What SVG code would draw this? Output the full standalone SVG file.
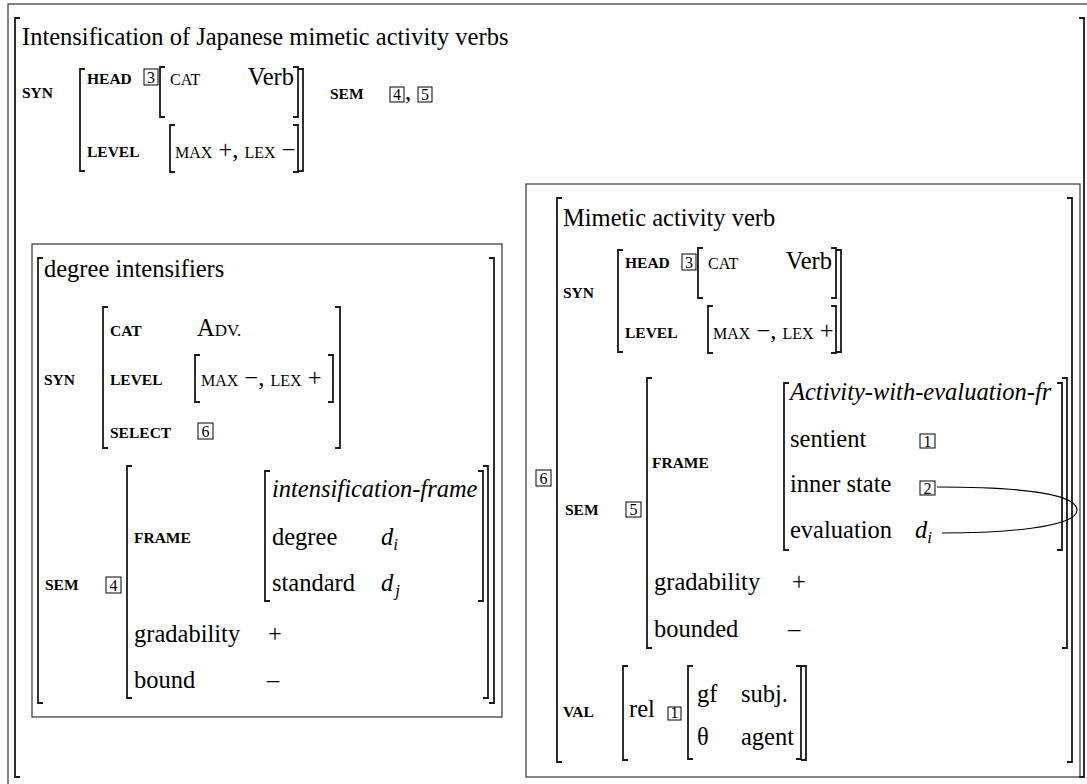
<svg xmlns="http://www.w3.org/2000/svg" width="1087" height="784" viewBox="0 0 1087 784">
<style>
.t{font-family:"Liberation Serif","Times New Roman",serif;font-size:24.5px;fill:#000}
.it{font-style:italic}
.lb{font-family:"Liberation Serif","Times New Roman",serif;font-size:15.5px;font-weight:bold;fill:#000}
.sc{font-size:16px}
.num{font-family:"Liberation Serif","Times New Roman",serif;font-size:16px;text-anchor:middle;fill:#000}
.sub{font-size:17px;font-style:italic}
.br{fill:none;stroke:#1a1a1a;stroke-width:1.8}
.bx{fill:none;stroke:#000;stroke-width:1}
.fr{fill:none;stroke:#333;stroke-width:1.2}
.cn{fill:none;stroke:#000;stroke-width:1.1}
</style>
<rect width="1087" height="784" fill="#fff"/>

<g id="main">
  <rect class="fr" x="8" y="4" width="1090" height="800"/>
  <path class="br" d="M20 18H15V777H20"/>
  <path class="br" d="M1079 18H1084V777H1079"/>
  <text class="t" x="22" y="45">Intensification of Japanese mimetic activity verbs</text>
  <text class="lb" x="22" y="98">SYN</text>
  <path class="br" d="M85 69H80V171H85"/>
  <path class="br" d="M298 69H303V171H298"/>
  <text class="lb" x="87" y="84">HEAD</text>
  <rect class="bx" x="144" y="69" width="14" height="16"/>
  <text class="num" x="151" y="83">3</text>
  <path class="br" d="M165 67H160V117H165"/>
  <path class="br" d="M293 67H298V117H293"/>
  <text class="t" x="170" y="85"><tspan class="sc">CAT</tspan></text>
  <text class="t" x="294" y="85" text-anchor="end">Verb</text>
  <text class="lb" x="87" y="157">LEVEL</text>
  <path class="br" d="M175 125H170V172H175"/>
  <path class="br" d="M293 125H298V172H293"/>
  <text class="t" x="175" y="158"><tspan class="sc">MAX</tspan> +, <tspan class="sc">LEX</tspan> −</text>
  <text class="lb" x="330" y="99">SEM</text>
  <rect class="bx" x="390" y="87" width="14" height="15"/>
  <text class="num" x="397" y="100">4</text>
  <text class="t" x="405" y="100">,</text>
  <rect class="bx" x="418" y="87" width="14" height="15"/>
  <text class="num" x="425" y="100">5</text>
</g>

<g id="degree-intensifiers">
  <rect class="fr" x="32" y="244" width="470" height="473"/>
  <path class="br" d="M43 258H38V703H43"/>
  <path class="br" d="M489 258H494V703H489"/>
  <text class="t" x="44" y="277">degree intensifiers</text>
  <text class="lb" x="44" y="385">SYN</text>
  <path class="br" d="M108 307H103V448H108"/>
  <path class="br" d="M335 307H340V448H335"/>
  <text class="lb" x="110" y="336">CAT</text>
  <text class="t" x="197" y="336">A<tspan font-size="17">DV.</tspan></text>
  <text class="lb" x="110" y="385">LEVEL</text>
  <path class="br" d="M200 355H195V402H200"/>
  <path class="br" d="M328 355H333V402H328"/>
  <text class="t" x="201" y="386"><tspan class="sc">MAX</tspan> −, <tspan class="sc">LEX</tspan> +</text>
  <text class="lb" x="110" y="438">SELECT</text>
  <rect class="bx" x="198" y="423" width="15" height="16"/>
  <text class="num" x="205.5" y="437">6</text>
  <text class="lb" x="45" y="590">SEM</text>
  <rect class="bx" x="106" y="577" width="15" height="16"/>
  <text class="num" x="113.5" y="591">4</text>
  <path class="br" d="M132 466H127V698H132"/>
  <path class="br" d="M483 466H488V698H483"/>
  <text class="lb" x="134" y="543">FRAME</text>
  <path class="br" d="M270 471H265V601H270"/>
  <path class="br" d="M478 471H483V601H478"/>
  <text class="t it" x="272" y="497">intensification-frame</text>
  <text class="t" x="272" y="545">degree</text>
  <text class="t" x="381" y="545"><tspan class="it">d</tspan><tspan class="sub" dy="5">i</tspan></text>
  <text class="t" x="272" y="591">standard</text>
  <text class="t" x="381" y="591"><tspan class="it">d</tspan><tspan class="sub" dx="2" dy="5">j</tspan></text>
  <text class="t" x="134" y="642">gradability</text>
  <text class="t" x="268" y="642">+</text>
  <text class="t" x="134" y="688">bound</text>
  <text class="t" x="267" y="688">–</text>
</g>

<g id="mimetic-verb">
  <rect class="fr" x="526" y="184" width="554" height="593"/>
  <rect class="bx" x="536" y="470" width="15" height="16"/>
  <text class="num" x="543.5" y="484">6</text>
  <path class="br" d="M562 198H557V762H562"/>
  <path class="br" d="M1067 198H1072V762H1067"/>
  <text class="t" x="563" y="226">Mimetic activity verb</text>
  <text class="lb" x="563" y="298">SYN</text>
  <path class="br" d="M623 250H618V352H623"/>
  <path class="br" d="M836 250H841V352H836"/>
  <text class="lb" x="625" y="268">HEAD</text>
  <rect class="bx" x="682" y="254" width="14" height="16"/>
  <text class="num" x="689" y="268">3</text>
  <path class="br" d="M703 248H698V298H703"/>
  <path class="br" d="M831 248H836V298H831"/>
  <text class="t" x="708" y="269"><tspan class="sc">CAT</tspan></text>
  <text class="t" x="832" y="269" text-anchor="end">Verb</text>
  <text class="lb" x="625" y="338">LEVEL</text>
  <path class="br" d="M713 306H708V353H713"/>
  <path class="br" d="M831 306H836V353H831"/>
  <text class="t" x="713" y="339"><tspan class="sc">MAX</tspan> −, <tspan class="sc">LEX</tspan> +</text>
  <text class="lb" x="565" y="515">SEM</text>
  <rect class="bx" x="626" y="502" width="15" height="15"/>
  <text class="num" x="633.5" y="515">5</text>
  <path class="br" d="M652 378H647V648H652"/>
  <path class="br" d="M1062 378H1067V648H1062"/>
  <text class="lb" x="652" y="468">FRAME</text>
  <path class="br" d="M789 383H784V550H789"/>
  <path class="br" d="M1057 383H1062V550H1057"/>
  <text class="t it" x="790" y="400">Activity-with-evaluation-fr</text>
  <text class="t" x="790" y="447">sentient</text>
  <rect class="bx" x="920" y="434" width="15" height="14"/>
  <text class="num" x="927.5" y="447">1</text>
  <text class="t" x="790" y="492">inner state</text>
  <rect class="bx" x="920" y="481" width="15" height="14"/>
  <text class="num" x="927.5" y="494">2</text>
  <text class="t" x="790" y="538">evaluation</text>
  <text class="t" x="915" y="538"><tspan class="it">d</tspan><tspan class="sub" dy="5">i</tspan></text>
  <text class="t" x="654" y="590">gradability</text>
  <text class="t" x="792" y="590">+</text>
  <text class="t" x="654" y="637">bounded</text>
  <text class="t" x="788" y="637">–</text>
  <text class="lb" x="563" y="717">VAL</text>
  <path class="br" d="M628 666H623V760H628"/>
  <path class="br" d="M801 666H806V760H801"/>
  <text class="t" x="629" y="717">rel</text>
  <rect class="bx" x="668" y="707" width="13" height="13"/>
  <text class="num" x="674.5" y="718" font-size="13">1</text>
  <path class="br" d="M693 666H688V759H693"/>
  <path class="br" d="M796 666H801V759H796"/>
  <text class="t" x="697" y="702">gf</text>
  <text class="t" x="741" y="702">subj.</text>
  <text class="t" x="697" y="745">θ</text>
  <text class="t" x="741" y="745">agent</text>
</g>

<g id="connectors">
  <path class="cn" d="M937 487C1000 487 1077 491 1077 510C1077 528 1000 533 942 533"/>
</g>
</svg>
